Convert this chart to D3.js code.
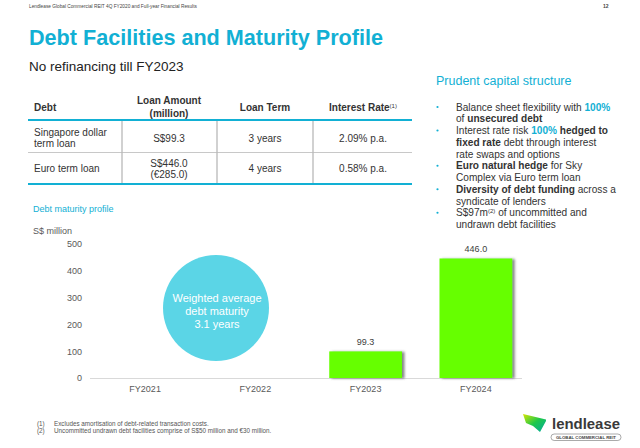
<!DOCTYPE html>
<html>
<head>
<meta charset="utf-8">
<script src="https://cdn.jsdelivr.net/npm/d3@7"></script>
<style>
  html, body { margin: 0; padding: 0; background: #fff; }
  svg { display: block; font-family: "Liberation Sans", Arial, sans-serif; }
</style>
</head>
<body>
<svg id="chart" width="640" height="448"></svg>
<script>
// ---------- data ----------
const categories = ["FY2021", "FY2022", "FY2023", "FY2024"];
const maturityValues = [null, null, 99.3, 446.0];
const yTicks = [0, 100, 200, 300, 400, 500];

const tableHeaders = [["Debt"], ["Loan Amount", "(million)"], ["Loan Term"], ["Interest Rate"]];
const tableRowLabels = [["Singapore dollar", "term loan"], ["Euro term loan"]];
const tableAmounts = [["S$99.3"], ["S$446.0", "(€285.0)"]];
const tableTerms = ["3 years", "4 years"];
const tableRates = ["2.09% p.a.", "0.58% p.a."];

// bullet lines: arrays of [text, style] segments; style: n normal, b bold, c cyan bold, s superscript
const bulletLines = [
  { dot: true,  segs: [["Balance sheet flexibility with ", "n"], ["100%", "c"]] },
  { dot: false, segs: [["of ", "n"], ["unsecured debt", "b"]] },
  { dot: true,  segs: [["Interest rate risk ", "n"], ["100%", "c"], [" hedged to", "b"]] },
  { dot: false, segs: [["fixed rate", "b"], [" debt through interest", "n"]] },
  { dot: false, segs: [["rate swaps and options", "n"]] },
  { dot: true,  segs: [["Euro natural hedge", "b"], [" for Sky", "n"]] },
  { dot: false, segs: [["Complex via Euro term loan", "n"]] },
  { dot: true,  segs: [["Diversity of debt funding", "b"], [" across a", "n"]] },
  { dot: false, segs: [["syndicate of lenders", "n"]] },
  { dot: true,  segs: [["S$97m", "n"], ["(2)", "s"], [" of uncommitted and", "n"]] },
  { dot: false, segs: [["undrawn debt facilities", "n"]] }
];

const footnotes = [
  ["(1)", "Excludes amortisation of debt-related transaction costs."],
  ["(2)", "Uncommitted undrawn debt facilities comprise of S$50 million and €30 million."]
];

// ---------- drawing ----------
const CYAN = "#12b0d4";
const TXT = "#333333";
const svg = d3.select("#chart");

const defs = svg.append("defs");
const sh = defs.append("filter").attr("id", "barShadow").attr("x", "-10%").attr("y", "-10%").attr("width", "130%").attr("height", "120%");
sh.append("feDropShadow").attr("dx", 2.5).attr("dy", 0.5).attr("stdDeviation", 0.8).attr("flood-color", "#555").attr("flood-opacity", 0.7);
const lsh = defs.append("filter").attr("id", "lineShadow").attr("x", "-5%").attr("y", "-100%").attr("width", "110%").attr("height", "400%");
lsh.append("feDropShadow").attr("dx", 0).attr("dy", 1.2).attr("stdDeviation", 0.8).attr("flood-color", "#666").attr("flood-opacity", 0.6);
const lg = defs.append("linearGradient").attr("id", "logoGrad").attr("x1", "0").attr("y1", "0").attr("x2", "1").attr("y2", "1");
lg.append("stop").attr("offset", "0").attr("stop-color", "#d7e600");
lg.append("stop").attr("offset", "0.5").attr("stop-color", "#1fc84a");
lg.append("stop").attr("offset", "1").attr("stop-color", "#00a9a0");

// header
svg.append("text").attr("x", 29).attr("y", 7.5).attr("font-size", 4.75).attr("fill", "#444")
  .text("Lendlease Global Commercial REIT 4Q FY2020 and Full-year Financial Results");
svg.append("text").attr("x", 603).attr("y", 7.5).attr("font-size", 5).attr("font-weight", "bold").attr("fill", "#444").text("12");

// title / subtitle
svg.append("text").attr("x", 29).attr("y", 44.5).attr("font-size", 21.6).attr("font-weight", "bold").attr("fill", CYAN)
  .text("Debt Facilities and Maturity Profile");
svg.append("text").attr("x", 29).attr("y", 71).attr("font-size", 13.5).attr("fill", "#222")
  .text("No refinancing till FY2023");

// ---------- table ----------
const tbl = svg.append("g").attr("font-size", 10).attr("fill", TXT);
const colX = [28, 122, 217, 313, 412];
const colCenters = [null, 169, 265, 363];
// header
tbl.append("text").attr("x", 34).attr("y", 111).attr("font-weight", "bold").text(tableHeaders[0][0]);
tbl.append("text").attr("x", colCenters[1]).attr("y", 104).attr("text-anchor", "middle").attr("font-weight", "bold").text(tableHeaders[1][0]);
tbl.append("text").attr("x", colCenters[1]).attr("y", 116.5).attr("text-anchor", "middle").attr("font-weight", "bold").text(tableHeaders[1][1]);
tbl.append("text").attr("x", colCenters[2]).attr("y", 111).attr("text-anchor", "middle").attr("font-weight", "bold").text(tableHeaders[2][0]);
const ir = tbl.append("text").attr("x", colCenters[3]).attr("y", 111).attr("text-anchor", "middle").attr("font-weight", "bold");
ir.append("tspan").text(tableHeaders[3][0]);
ir.append("tspan").attr("font-size", 6).attr("dy", -3.5).attr("font-weight", "normal").text("(1)");

// lines
tbl.append("line").attr("x1", colX[0]).attr("x2", colX[4]).attr("y1", 120).attr("y2", 120).attr("stroke", CYAN).attr("stroke-width", 2.2);
tbl.append("line").attr("x1", colX[0]).attr("x2", colX[4]).attr("y1", 152.5).attr("y2", 152.5).attr("stroke", "#c8c8c8").attr("stroke-width", 1);
tbl.append("line").attr("x1", colX[0]).attr("x2", colX[4]).attr("y1", 184).attr("y2", 184).attr("stroke", CYAN).attr("stroke-width", 2.2);
[1, 2, 3].forEach(i => {
  tbl.append("line").attr("x1", colX[i]).attr("x2", colX[i]).attr("y1", 121).attr("y2", 183)
    .attr("stroke", "#b8b8b8").attr("stroke-width", 1.3);
});
// rows
const rowMid = [138, 168.5];
tableRowLabels.forEach((lines, r) => {
  lines.forEach((t, k) => {
    const y = rowMid[r] + 3.5 + (k - (lines.length - 1) / 2) * 11;
    tbl.append("text").attr("x", 34).attr("y", y).text(t);
  });
  tableAmounts[r].forEach((t, k) => {
    const y = rowMid[r] + 3.5 + (k - (tableAmounts[r].length - 1) / 2) * 11;
    tbl.append("text").attr("x", colCenters[1]).attr("y", y).attr("text-anchor", "middle").text(t);
  });
  tbl.append("text").attr("x", colCenters[2]).attr("y", rowMid[r] + 3.5).attr("text-anchor", "middle").text(tableTerms[r]);
  tbl.append("text").attr("x", colCenters[3]).attr("y", rowMid[r] + 3.5).attr("text-anchor", "middle").text(tableRates[r]);
});

// ---------- right panel ----------
svg.append("text").attr("x", 436).attr("y", 85).attr("font-size", 12.5).attr("fill", CYAN).text("Prudent capital structure");
svg.append("line").attr("x1", 429).attr("x2", 614).attr("y1", 93).attr("y2", 93)
  .attr("stroke", "#2bb8d8").attr("stroke-width", 1.8).attr("filter", "url(#lineShadow)");

const bl = svg.append("g").attr("font-size", 10.1).attr("fill", TXT);
bulletLines.forEach((ln, i) => {
  const y = 110.5 + i * 11.75;
  if (ln.dot) bl.append("circle").attr("cx", 437.5).attr("cy", y - 3.5).attr("r", 1.1).attr("fill", CYAN);
  const t = bl.append("text").attr("x", 456).attr("y", y);
  ln.segs.forEach(([s, st]) => {
    const sp = t.append("tspan").text(s);
    if (st === "b") sp.attr("font-weight", "bold");
    if (st === "c") sp.attr("font-weight", "bold").attr("fill", CYAN);
    if (st === "s") sp.attr("font-size", 6).attr("baseline-shift", "super");
  });
});

// ---------- bar chart ----------
svg.append("text").attr("x", 33).attr("y", 212).attr("font-size", 9).attr("fill", CYAN).text("Debt maturity profile");
svg.append("text").attr("x", 33).attr("y", 233.5).attr("font-size", 9).attr("fill", "#595959").text("S$ million");

const x = d3.scaleBand().domain(categories).range([90, 531]).paddingInner(0.34).paddingOuter(0.17);
const y = d3.scaleLinear().domain([0, 500]).range([378, 244]);

const yAxis = svg.append("g").attr("transform", "translate(90,0)")
  .call(d3.axisLeft(y).tickValues(yTicks).tickSize(0).tickPadding(8));
yAxis.select(".domain").remove();
yAxis.selectAll("text").attr("font-size", 9).attr("fill", "#595959").attr("font-family", "Liberation Sans, Arial, sans-serif");

const xAxis = svg.append("g").attr("transform", "translate(0,378)")
  .call(d3.axisBottom(x).tickSize(0).tickPadding(8));
xAxis.select(".domain").attr("d", "M90,0.5H522").attr("stroke", "#d9d9d9").attr("stroke-width", 1);
xAxis.selectAll("text").attr("font-size", 9).attr("fill", "#595959").attr("font-family", "Liberation Sans, Arial, sans-serif");

const barData = categories.map((c, i) => ({ c, v: maturityValues[i] })).filter(d => d.v != null);
svg.append("g").selectAll("rect").data(barData).join("rect")
  .attr("x", d => x(d.c)).attr("width", x.bandwidth())
  .attr("y", d => y(d.v)).attr("height", d => y(0) - y(d.v))
  .attr("fill", "#66ff00").attr("filter", "url(#barShadow)");
svg.append("g").selectAll("text").data(barData).join("text")
  .attr("x", d => x(d.c) + x.bandwidth() / 2).attr("y", d => y(d.v) - 6)
  .attr("text-anchor", "middle").attr("font-size", 9).attr("fill", "#404040")
  .text(d => d.v.toFixed(1));

// weighted-average bubble
svg.append("circle").attr("cx", 216).attr("cy", 308).attr("r", 53).attr("fill", "#5bd5e6");
const bubbleLines = ["Weighted average", "debt maturity", "3.1 years"];
svg.append("g").selectAll("text").data(bubbleLines).join("text")
  .attr("x", 217).attr("y", (d, i) => 302 + i * 13)
  .attr("text-anchor", "middle").attr("font-size", 11).attr("fill", "#fff").text(d => d);

// ---------- footnotes ----------
const fn = svg.append("g").attr("font-size", 6.3).attr("fill", "#555");
footnotes.forEach(([n, t], i) => {
  fn.append("text").attr("x", 37).attr("y", 425.5 + i * 7.2).text(n);
  fn.append("text").attr("x", 54).attr("y", 425.5 + i * 7.2).text(t);
});

// ---------- logo ----------
const logo = svg.append("g");
logo.append("path").attr("d", "M523,414 L546,419.5 L546,421 L540,432 L533,426 L526,423 Z").attr("fill", "url(#logoGrad)");
logo.append("text").attr("x", 552).attr("y", 428.5).attr("font-size", 15.5).attr("font-weight", "bold")
  .attr("fill", "#3a3a3a").attr("textLength", 68).attr("lengthAdjust", "spacingAndGlyphs").text("lendlease");
logo.append("rect").attr("x", 551).attr("y", 434).attr("width", 70).attr("height", 6.5).attr("rx", 3.2)
  .attr("fill", "none").attr("stroke", "#555").attr("stroke-width", 0.5);
logo.append("text").attr("x", 586).attr("y", 438.8).attr("text-anchor", "middle").attr("font-size", 4)
  .attr("font-weight", "bold").attr("fill", "#444").attr("textLength", 60).attr("lengthAdjust", "spacingAndGlyphs")
  .text("GLOBAL COMMERCIAL REIT");
</script>
</body>
</html>
